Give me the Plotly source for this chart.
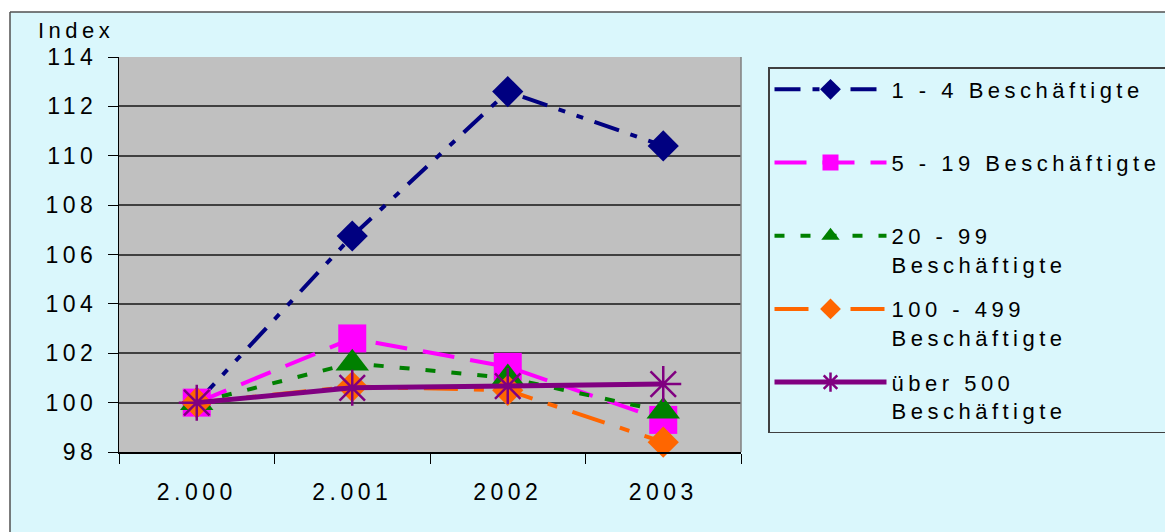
import plotly.graph_objects as go

# ---- data ----
years = ["2.000", "2.001", "2002", "2003"]
series_names = [
    "1 - 4 Beschäftigte",
    "5 - 19 Beschäftigte",
    "20 - 99<br>Beschäftigte",
    "100 - 499<br>Beschäftigte",
    "über 500<br>Beschäftigte",
]
v_1_4 = [100.0, 106.75, 112.6, 110.4]
v_5_19 = [100.0, 102.6, 101.45, 99.3]
v_20_99 = [100.0, 101.6, 101.0, 99.65]
v_100_499 = [100.0, 100.65, 100.5, 98.4]
v_500 = [100.0, 100.6, 100.67, 100.75]
y_ticks = [98, 100, 102, 104, 106, 108, 110, 112, 114]

FONT = "Arial, 'Liberation Sans', sans-serif"
LS = "letter-spacing:4.5px"


def sp(text, style=LS):
    return "<br>".join(f"<span style='{style}'>{p}</span>" for p in text.split("<br>"))


styles = [
    dict(color="#000080", dash="26px,12px,7px,12px,7px,12px", width=4, symbol="diamond", size=24),
    dict(color="#FF00FF", dash="32px,16px", width=4, symbol="square", size=28),
    dict(color="#008000", dash="10px,16px", width=4, symbol="triangle-up", size=29),
    dict(color="#FF6600", dash="34px,16px,10px,16px", width=4, symbol="diamond", size=24),
    dict(color="#800080", dash="solid", width=5, symbol="asterisk-open", size=30),
]
values = [v_1_4, v_5_19, v_20_99, v_100_499, v_500]

fig = go.Figure()
for i, (name, vals, st) in enumerate(zip(series_names, values, styles)):
    label = name if "<br>" in name else name + "<br>\u00a0"
    fig.add_trace(go.Scatter(
        x=years, y=vals, mode="lines+markers", name=sp(label),
        legendgroup=f"g{i}",
        line=dict(color=st["color"], width=st["width"], dash=st["dash"]),
        marker=dict(symbol=st["symbol"], size=st["size"], color=st["color"],
                    line=dict(color=st["color"], width=2.5 if "asterisk" in st["symbol"] else 0)),
        cliponaxis=False,
    ))

OFF = 8  # page body margin
W, H = 1173, 532 - OFF
# plot-area edges in page pixels
PL, PR, PT, PB = 119, 741, 57, 452
L, R, T, B = PL - OFF, PR - OFF, PT - OFF, PB - OFF
pw, ph = R - L, B - T


def px2x(px):  # page px -> paper fraction
    return (px - OFF - L) / pw


def px2y(py):
    return (B - (py - OFF)) / ph


BG = "#DAF7FC"
fig.update_layout(
    width=W, height=H,
    margin=dict(l=L, r=W - R, t=T, b=H - B, pad=0),
    paper_bgcolor=BG, plot_bgcolor="#C0C0C0",
    font=dict(family=FONT, size=22, color="black"),
    showlegend=True,
    legend=dict(
        x=px2x(768), y=px2y(67), xanchor="left", yanchor="top",
        bgcolor=BG, bordercolor="#404040", borderwidth=1.5,
        font=dict(family=FONT, size=22, color="black"),
        traceorder="grouped", tracegroupgap=13, valign="top",
        itemwidth=112,
    ),
    xaxis=dict(
        type="category", range=[-0.5, 3.5],
        tickvals=years, ticktext=[sp(y) for y in years],
        ticks="outside", ticklen=10, tickwidth=1, tickcolor="black",
        tickson="boundaries",
        showline=True, linecolor="black", linewidth=2,
        showgrid=False, ticklabelstandoff=18,
        tickfont=dict(family=FONT, size=23, color="black"),
    ),
    yaxis=dict(
        range=[98, 114], tickvals=y_ticks, ticktext=[sp(str(v)) for v in y_ticks],
        ticks="outside", ticklen=10, tickwidth=1, tickcolor="black",
        showline=True, linecolor="black", linewidth=1,
        showgrid=True, gridcolor="#404040", gridwidth=1.5,
        zeroline=False, ticklabelstandoff=6,
        tickfont=dict(family=FONT, size=23, color="black"),
    ),
    annotations=[dict(
        text=sp("Index"), x=px2x(36), y=px2y(30), xref="paper", yref="paper",
        xanchor="left", yanchor="middle", showarrow=False,
        font=dict(family=FONT, size=22, color="black"),
    )],
    shapes=[
        # white outside strips
        dict(type="rect", xref="paper", yref="paper", x0=px2x(-5), x1=px2x(1190),
             y0=px2y(12), y1=px2y(-5), fillcolor="white", line=dict(width=0), layer="below"),
        dict(type="rect", xref="paper", yref="paper", x0=px2x(-5), x1=px2x(10),
             y0=px2y(540), y1=px2y(-5), fillcolor="white", line=dict(width=0), layer="below"),
        # outer border
        dict(type="line", xref="paper", yref="paper", x0=px2x(10), x1=px2x(1190),
             y0=px2y(12), y1=px2y(12), line=dict(color="#505050", width=1.5)),
        dict(type="line", xref="paper", yref="paper", x0=px2x(10), x1=px2x(10),
             y0=px2y(12), y1=px2y(540), line=dict(color="#505050", width=1.5)),
        # plot-area right edge
        dict(type="line", xref="paper", yref="paper", x0=1, x1=1, y0=0, y1=1,
             line=dict(color="#808080", width=1.5)),
    ],
)

fig.write_html("out.html")
